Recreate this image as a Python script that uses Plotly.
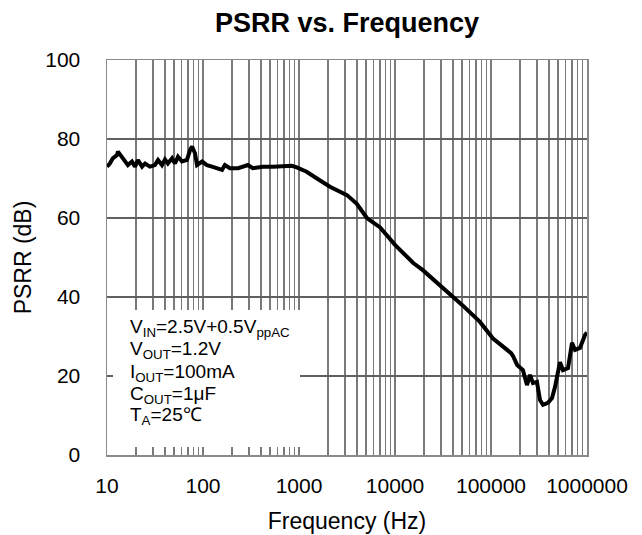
import plotly.graph_objects as go

# ---- data ----
freq_hz = [10, 10.7, 11.5, 12.7, 13.0, 14.3, 15.4, 16.5, 18.2, 19.6, 21.0, 23.2, 24.9, 28.0,
           31.6, 34.0, 37.4, 40.2, 43.1, 47.6, 51.1, 54.9, 60.4, 68.1, 73.3, 76.9, 82.5, 86.6,
           97.8, 110, 124, 140, 158, 169, 191, 232, 294, 330, 422, 536, 681, 843, 948, 1200,
           1540, 2100, 3160, 4000, 5100, 7000, 10000, 15500, 19500, 30000, 40200, 50000,
           76700, 105000, 162000, 170000, 187000, 200000, 215000, 237000, 255000, 274000,
           301000, 324000, 348000, 392000, 432000, 464000, 523000, 562000, 634000, 698000,
           750000, 845000, 953000, 1000000]
psrr_db = [73.0, 73.8, 75.1, 75.9, 76.8, 75.5, 74.7, 73.4, 74.3, 73.0, 74.7, 73.0, 73.8, 73.0,
           73.4, 74.7, 73.4, 74.8, 73.8, 75.1, 73.8, 75.5, 74.3, 74.7, 77.2, 78.1, 76.4, 73.4,
           74.3, 73.4, 73.0, 72.6, 72.2, 73.4, 72.6, 72.6, 73.4, 72.6, 73.0, 73.0, 73.0, 73.2,
           72.8, 71.7, 70.0, 67.9, 65.8, 63.6, 60.0, 57.6, 53.2, 48.6, 46.8, 42.8, 40.0, 38.0,
           33.7, 29.5, 25.8, 25.0, 22.8, 22.3, 21.5, 17.7, 20.3, 18.2,
           18.5, 13.9, 12.7, 13.2, 14.4, 17.2, 23.5, 21.5, 22.0, 28.4,
           26.6, 27.1, 30.4, 31.0]

x_grid_vals = [m * 10 ** e for e in range(1, 6) for m in range(1, 10)] + [1000000]
x_tick_text = [str(v) if m == 1 else "" for v, m in
               zip(x_grid_vals, [m for e in range(1, 6) for m in range(1, 10)] + [1])]
y_tick_vals = [0, 20, 40, 60, 80, 100]

cond_lines = ["V<sub>IN</sub>=2.5V+0.5V<sub>ppAC</sub>",
              "V<sub>OUT</sub>=1.2V",
              "I<sub>OUT</sub>=100mA",
              "C<sub>OUT</sub>=1μF",
              "T<sub>A</sub>=25℃"]

FONT = "Liberation Sans, Arial, sans-serif"
W, H = 642, 535
L, R, T, B = 107, 55, 60, 80
PH = H - T - B
PW = W - L - R

fig = go.Figure()
fig.add_trace(go.Scatter(x=freq_hz, y=psrr_db, mode="lines",
                         line=dict(color="black", width=4, shape="linear"),
                         showlegend=False, hoverinfo="skip"))

# white box behind the condition text
fig.add_shape(type="rect", xref="paper", yref="paper",
              x0=(113 - L) / PW, x1=(300 - L) / PW,
              y0=(H - B - 447) / PH, y1=(H - B - 310) / PH,
              fillcolor="white", line=dict(width=0), layer="above")

line_y_px = [328, 350, 373, 395, 416]
for txt, ypx in zip(cond_lines, line_y_px):
    fig.add_annotation(text=txt, xref="paper", yref="paper",
                       x=(128 - L) / PW, y=(H - B - ypx) / PH,
                       xanchor="left", yanchor="middle", showarrow=False,
                       font=dict(family=FONT, size=19, color="black"))

fig.update_layout(
    width=W, height=H,
    margin=dict(l=L, r=R, t=T, b=B, autoexpand=False),
    paper_bgcolor="white", plot_bgcolor="white",
    title=dict(text="<b>PSRR vs. Frequency</b>", x=(L + PW / 2) / W, xanchor="center",
               y=1 - 23 / H, yanchor="middle", yref="container",
               font=dict(family=FONT, size=27, color="black")),
    font=dict(family=FONT, color="black"),
)
fig.update_xaxes(type="log", range=[1, 6], tickmode="array", tickvals=x_grid_vals,
                 ticktext=x_tick_text, showgrid=True, gridcolor="#7a7a7a", gridwidth=1.5,
                 showline=True, linecolor="#8a8a8a", linewidth=1.5, mirror=True,
                 ticks="", ticklabelstandoff=11, zeroline=False, automargin=False,
                 tickfont=dict(family=FONT, size=21, color="black"),
                 title=dict(text="Frequency (Hz)", standoff=17,
                            font=dict(family=FONT, size=23, color="black")))
fig.update_yaxes(range=[0, 100], tickmode="array", tickvals=y_tick_vals,
                 showgrid=True, gridcolor="#606060", gridwidth=1.5,
                 showline=True, linecolor="#8a8a8a", linewidth=1.5, mirror=True,
                 ticks="", ticklabelstandoff=21, zeroline=False, automargin=False,
                 tickfont=dict(family=FONT, size=21, color="black"),
                 title=dict(text="PSRR (dB)", standoff=7,
                            font=dict(family=FONT, size=23, color="black")))

fig.write_html("out.html", config={"displayModeBar": False, "staticPlot": True},
               post_script="document.body.style.margin='0';document.body.style.overflow='hidden';")
